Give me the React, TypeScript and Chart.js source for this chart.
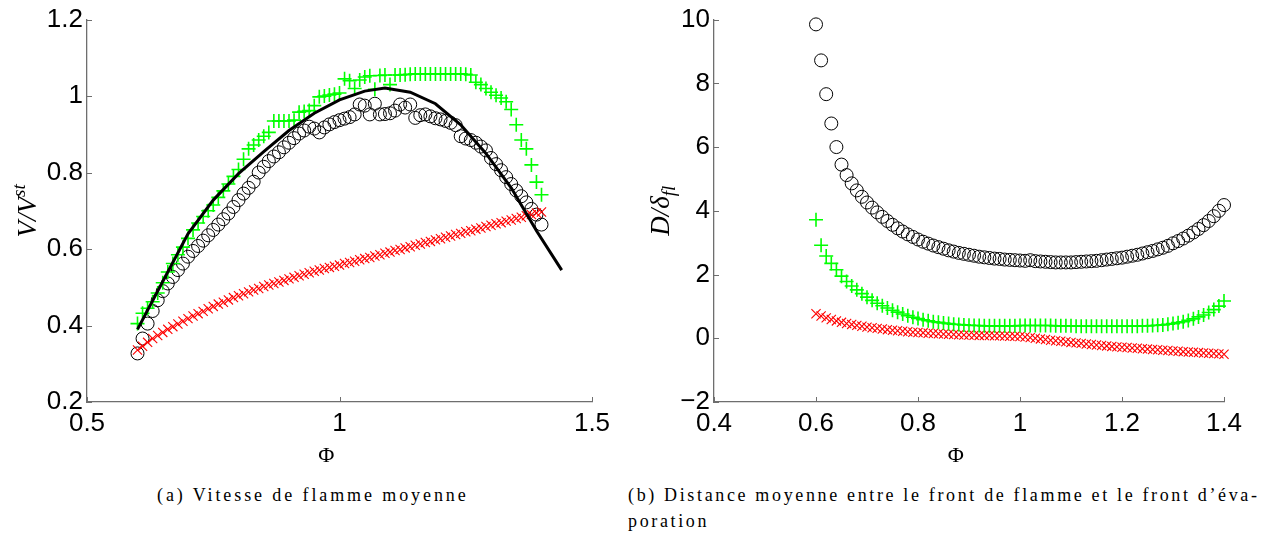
import React, { useEffect, useRef, useMemo } from "react";
import { Chart, registerables } from "chart.js";
Chart.register(...registerables);

// ---------- data ----------
const PHI = [0.6, 0.61, 0.62, 0.63, 0.64, 0.65, 0.66, 0.67, 0.68, 0.69, 0.7, 0.71, 0.72, 0.73, 0.74, 0.75, 0.76, 0.77, 0.78, 0.79, 0.8, 0.81, 0.82, 0.83, 0.84, 0.85, 0.86, 0.87, 0.88, 0.89, 0.9, 0.91, 0.92, 0.93, 0.94, 0.95, 0.96, 0.97, 0.98, 0.99, 1, 1.01, 1.02, 1.03, 1.04, 1.05, 1.06, 1.07, 1.08, 1.09, 1.1, 1.11, 1.12, 1.13, 1.14, 1.15, 1.16, 1.17, 1.18, 1.19, 1.2, 1.21, 1.22, 1.23, 1.24, 1.25, 1.26, 1.27, 1.28, 1.29, 1.3, 1.31, 1.32, 1.33, 1.34, 1.35, 1.36, 1.37, 1.38, 1.39, 1.4];

// (a) flame speed
const LINE_PHI = [0.6, 0.65, 0.7, 0.75, 0.8, 0.85, 0.9, 0.95, 1.0, 1.05, 1.09, 1.14, 1.19, 1.24, 1.29, 1.34, 1.39, 1.44];
const LINE_V = [0.39, 0.515, 0.64, 0.728, 0.797, 0.855, 0.91, 0.955, 0.99, 1.013, 1.021, 1.01, 0.98, 0.925, 0.85, 0.76, 0.648, 0.545];
const V_CIRCLE = [
  0.327, 0.366, 0.405, 0.438, 0.466, 0.49, 0.51, 0.527, 0.545, 0.562,
  0.58, 0.595, 0.608, 0.622, 0.636, 0.65, 0.664, 0.678, 0.693, 0.71,
  0.728, 0.745, 0.76, 0.776, 0.8, 0.815, 0.83, 0.842, 0.853, 0.866,
  0.878, 0.89, 0.902, 0.91, 0.92, 0.915, 0.905, 0.918, 0.926, 0.932,
  0.937, 0.941, 0.945, 0.952, 0.978, 0.975, 0.952, 0.98, 0.952, 0.953,
  0.955, 0.962, 0.978, 0.97, 0.978, 0.943, 0.95, 0.952, 0.947, 0.942,
  0.939, 0.935, 0.93, 0.924, 0.895, 0.889, 0.885, 0.878, 0.868, 0.858,
  0.838, 0.822, 0.806, 0.788, 0.77, 0.753, 0.738, 0.722, 0.705, 0.69,
  0.664,
];
const V_PLUS = [
  0.405, 0.432, 0.445, 0.462, 0.485, 0.512, 0.54, 0.562, 0.585, 0.605,
  0.628, 0.65, 0.668, 0.685, 0.7, 0.715, 0.735, 0.752, 0.77, 0.79,
  0.808, 0.835, 0.862, 0.872, 0.885, 0.895, 0.905, 0.935, 0.935, 0.935,
  0.935, 0.937, 0.958, 0.96, 0.962, 0.975, 0.998, 1.0, 1.003, 1.005,
  1.008, 1.045, 1.04, 1.02, 1.042, 1.05, 1.053, 1.018, 1.054, 1.055,
  1.03, 1.055, 1.055, 1.056, 1.057, 1.058, 1.058, 1.058, 1.058, 1.058,
  1.058, 1.058, 1.058, 1.058, 1.058, 1.057, 1.055, 1.036, 1.03, 1.02,
  1.01, 1.002, 0.995, 0.985, 0.965, 0.925, 0.885, 0.862, 0.82, 0.775,
  0.742,
];
const V_CROSS = [
  0.336, 0.346, 0.356, 0.366, 0.374, 0.382, 0.39, 0.397, 0.404, 0.411,
  0.418, 0.425, 0.431, 0.437, 0.444, 0.45, 0.456, 0.461, 0.467, 0.473,
  0.478, 0.483, 0.488, 0.493, 0.497, 0.502, 0.506, 0.51, 0.514, 0.518,
  0.522, 0.526, 0.53, 0.534, 0.538, 0.542, 0.545, 0.549, 0.552, 0.555,
  0.558, 0.562, 0.565, 0.568, 0.572, 0.575, 0.578, 0.582, 0.585, 0.589,
  0.592, 0.596, 0.599, 0.603, 0.606, 0.61, 0.613, 0.617, 0.62, 0.624,
  0.627, 0.631, 0.634, 0.638, 0.641, 0.645, 0.648, 0.652, 0.655, 0.659,
  0.662, 0.666, 0.669, 0.673, 0.676, 0.68, 0.683, 0.687, 0.69, 0.694,
  0.697,
];

// (b) distance
const D_CIRCLE = [
  9.85, 8.72, 7.66, 6.74, 6.0, 5.45, 5.12, 4.86, 4.64, 4.44,
  4.26, 4.1, 3.95, 3.81, 3.68, 3.56, 3.45, 3.35, 3.26, 3.18,
  3.1, 3.03, 2.97, 2.91, 2.86, 2.81, 2.76, 2.72, 2.68, 2.65,
  2.62, 2.59, 2.56, 2.54, 2.52, 2.5, 2.49, 2.47, 2.46, 2.45,
  2.44, 2.43, 2.45, 2.42, 2.41, 2.4, 2.39, 2.38, 2.38, 2.38,
  2.38, 2.39, 2.4, 2.41, 2.42, 2.43, 2.45, 2.47, 2.49, 2.51,
  2.53, 2.56, 2.59, 2.62, 2.66, 2.7, 2.74, 2.79, 2.84, 2.9,
  2.98, 3.05, 3.13, 3.22, 3.32, 3.43, 3.55, 3.68, 3.83, 4.0,
  4.18,
];
const D_PLUS = [
  3.72, 2.92, 2.58, 2.35, 2.15, 1.95, 1.78, 1.64, 1.52, 1.4,
  1.29, 1.19, 1.1, 1.02, 0.95, 0.88, 0.82, 0.76, 0.71, 0.66,
  0.62, 0.58, 0.55, 0.52, 0.5, 0.48, 0.46, 0.44, 0.43, 0.42,
  0.41, 0.4, 0.4, 0.39, 0.39, 0.39, 0.39, 0.39, 0.39, 0.39,
  0.4, 0.4, 0.4, 0.4, 0.4, 0.4, 0.4, 0.39, 0.39, 0.39,
  0.39, 0.38, 0.38, 0.38, 0.38, 0.38, 0.38, 0.38, 0.38, 0.38,
  0.38, 0.38, 0.38, 0.38, 0.39, 0.39, 0.4, 0.41, 0.42, 0.44,
  0.46, 0.49, 0.52, 0.56, 0.61, 0.67, 0.73, 0.81, 0.9, 1.01,
  1.17,
];
const D_CROSS = [
  0.77, 0.7, 0.64, 0.59, 0.545, 0.5, 0.465, 0.435, 0.405, 0.375,
  0.35, 0.33, 0.31, 0.29, 0.27, 0.25, 0.235, 0.22, 0.205, 0.19,
  0.18, 0.17, 0.16, 0.15, 0.14, 0.13, 0.125, 0.12, 0.11, 0.105,
  0.1, 0.095, 0.09, 0.085, 0.085, 0.08, 0.075, 0.07, 0.065, 0.06,
  0.055, 0.04, 0.02, 0.0, -0.02, -0.04, -0.06, -0.08, -0.095, -0.11,
  -0.13, -0.145, -0.16, -0.18, -0.195, -0.21, -0.225, -0.24, -0.255, -0.27,
  -0.28, -0.29, -0.305, -0.315, -0.33, -0.34, -0.35, -0.36, -0.375, -0.385,
  -0.4, -0.41, -0.42, -0.43, -0.44, -0.45, -0.46, -0.47, -0.48, -0.49,
  -0.5,
];

// ticks
const A_X_TICKS = [0.5, 1, 1.5];
const A_X_LABELS = ["0.5", "1", "1.5"];
const A_Y_TICKS = [0.2, 0.4, 0.6, 0.8, 1, 1.2];
const A_Y_LABELS = ["0.2", "0.4", "0.6", "0.8", "1", "1.2"];
const B_X_TICKS = [0.4, 0.6, 0.8, 1, 1.2, 1.4];
const B_X_LABELS = ["0.4", "0.6", "0.8", "1", "1.2", "1.4"];
const B_Y_TICKS = [-2, 0, 2, 4, 6, 8, 10];
const B_Y_LABELS = ["\u22122", "0", "2", "4", "6", "8", "10"];

const CAPTION_A = "(a) Vitesse de flamme moyenne";
const CAPTION_B1 = "(b) Distance moyenne entre le front de flamme et le front d\u2019\u00e9va-";
const CAPTION_B2 = "poration";

// ---------- styles ----------
const AXIS_COLOR = "#6e6e6e";
const TICK_FONT = { family: "'Liberation Sans', Arial, sans-serif", size: 26 };
const SERIF = "'Liberation Serif', 'Times New Roman', serif";
const GREEN = "#00ff00";
const RED = "#ff0000";

const pts = (xs: number[], ys: number[]) => xs.map((x, i) => ({ x, y: ys[i] }));

const decoPlugin = {
  id: "deco",
  afterDraw(chart: any, _args: any, opts: any) {
    const ctx = chart.ctx as CanvasRenderingContext2D;
    const area = chart.chartArea;
    const xs = chart.scales.x;
    const ys = chart.scales.y;
    ctx.save();
    // inward tick marks
    ctx.strokeStyle = AXIS_COLOR;
    ctx.lineWidth = 1;
    ctx.beginPath();
    for (const t of xs.ticks) {
      const px = Math.round(xs.getPixelForValue(t.value)) + 0.5;
      ctx.moveTo(px, area.bottom);
      ctx.lineTo(px, area.bottom - 5);
    }
    for (const t of ys.ticks) {
      const py = Math.round(ys.getPixelForValue(t.value)) + 0.5;
      ctx.moveTo(area.left, py);
      ctx.lineTo(area.left + 5, py);
    }
    ctx.stroke();
    // x title
    ctx.fillStyle = "#000";
    ctx.font = `22px ${SERIF}`;
    ctx.textAlign = "center";
    ctx.textBaseline = "middle";
    ctx.fillText(opts.xTitle, area.left + opts.xFrac * (area.right - area.left), opts.xTitleY);
    // y title (rotated, with sub/superscript)
    ctx.translate(opts.yTitleX, (area.top + area.bottom) / 2);
    ctx.rotate(-Math.PI / 2);
    ctx.textAlign = "left";
    ctx.textBaseline = "alphabetic";
    let total = 0;
    for (const p of opts.yParts) {
      ctx.font = p.font;
      total += ctx.measureText(p.text).width;
    }
    let x = -total / 2;
    for (const p of opts.yParts) {
      ctx.font = p.font;
      ctx.fillText(p.text, x, p.dy);
      x += ctx.measureText(p.text).width;
    }
    ctx.restore();
  },
};

function makeScale(min: number, max: number, ticks: number[], labels: string[], isX: boolean, fitSize: number, pad: number) {
  return {
    type: "linear",
    min,
    max,
    afterBuildTicks: (s: any) => {
      s.ticks = ticks.map((value) => ({ value }));
    },
    afterFit: (s: any) => {
      if (isX) s.height = fitSize;
      else s.width = fitSize;
    },
    grid: { display: false, drawTicks: false },
    border: { display: true, color: AXIS_COLOR, width: 1.3 },
    ticks: {
      font: TICK_FONT,
      color: "#000",
      padding: pad,
      autoSkip: false,
      maxRotation: 0,
      callback: (_v: any, i: number) => labels[i],
    },
  };
}

const plusStyle = {
  pointStyle: "cross",
  pointRadius: 7,
  borderColor: GREEN,
  borderWidth: 1.6,
  backgroundColor: GREEN,
  clip: false,
};
const xStyle = {
  pointStyle: "crossRot",
  pointRadius: 6.5,
  borderColor: RED,
  borderWidth: 1.1,
  backgroundColor: RED,
  clip: false,
};
const circleStyle = {
  pointStyle: "circle",
  pointRadius: 6.5,
  borderColor: "#000",
  borderWidth: 1,
  backgroundColor: "rgba(0,0,0,0)",
  clip: false,
};

function configA() {
  return {
    type: "scatter",
    data: {
      datasets: [
        {
          data: pts(LINE_PHI, LINE_V),
          showLine: true,
          borderColor: "#000",
          borderWidth: 3,
          pointRadius: 0,
          tension: 0,
          clip: false,
        },
        { data: pts(PHI, V_PLUS), ...plusStyle },
        { data: pts(PHI, V_CROSS), ...xStyle },
        { data: pts(PHI, V_CIRCLE), ...circleStyle },
      ],
    },
    options: {
      responsive: false,
      animation: false,
      devicePixelRatio: 1,
      events: [],
      layout: { padding: { top: 16, right: 48, left: 0, bottom: 0 } },
      scales: {
        x: makeScale(0.5, 1.5, A_X_TICKS, A_X_LABELS, true, 470 - 402, 6),
        y: makeScale(0.2, 1.2, A_Y_TICKS, A_Y_LABELS, false, 87, 4),
      },
      plugins: {
        legend: { display: false },
        tooltip: { enabled: false },
        deco: {
          xTitle: "\u03a6",
          xFrac: 0.474,
          xTitleY: 456,
          yTitleX: 36,
          yParts: [
            { text: "V/V", font: `italic 27px ${SERIF}`, dy: 0 },
            { text: "st", font: `italic 19px ${SERIF}`, dy: -11 },
          ],
        },
      },
    },
    plugins: [decoPlugin],
  };
}

function configB() {
  return {
    type: "scatter",
    data: {
      datasets: [
        { data: pts(PHI, D_PLUS), ...plusStyle },
        { data: pts(PHI, D_CROSS), ...xStyle },
        { data: pts(PHI, D_CIRCLE), ...circleStyle },
      ],
    },
    options: {
      responsive: false,
      animation: false,
      devicePixelRatio: 1,
      events: [],
      layout: { padding: { top: 16, right: 43, left: 0, bottom: 0 } },
      scales: {
        x: makeScale(0.4, 1.4, B_X_TICKS, B_X_LABELS, true, 470 - 402, 6),
        y: makeScale(-2, 10, B_Y_TICKS, B_Y_LABELS, false, 74, 4),
      },
      plugins: {
        legend: { display: false },
        tooltip: { enabled: false },
        deco: {
          xTitle: "\u03a6",
          xFrac: 0.474,
          xTitleY: 456,
          yTitleX: 29,
          yParts: [
            { text: "D/\u03b4", font: `italic 27px ${SERIF}`, dy: 0 },
            { text: "fl", font: `italic 19px ${SERIF}`, dy: 6 },
          ],
        },
      },
    },
    plugins: [decoPlugin],
  };
}

function ChartCanvas({ make, left, width, height }: { make: () => any; left: number; width: number; height: number }) {
  const ref = useRef<HTMLCanvasElement>(null);
  useEffect(() => {
    const chart = new Chart(ref.current as HTMLCanvasElement, make());
    return () => chart.destroy();
  }, []);
  return (
    <canvas
      ref={ref}
      width={width}
      height={height}
      style={{ position: "absolute", left, top: 0, width, height }}
    />
  );
}

function measure(text: string, font: string) {
  const c = document.createElement("canvas").getContext("2d") as CanvasRenderingContext2D;
  c.font = font;
  return c.measureText(text).width;
}

const CAP_SIZE = 18;
const CAP_FONT = `${CAP_SIZE}px ${SERIF}`;

export default function App() {
  const lsA = useMemo(() => (309 - measure(CAPTION_A, CAP_FONT)) / (CAPTION_A.length - 1), []);
  const lsB = useMemo(() => (629 - measure(CAPTION_B1, CAP_FONT)) / (CAPTION_B1.length - 1), []);
  const capStyle = (left: number, top: number, ls: number): React.CSSProperties => ({
    position: "absolute",
    left,
    top,
    fontFamily: SERIF,
    fontSize: CAP_SIZE,
    lineHeight: "20px",
    letterSpacing: `${ls}px`,
    whiteSpace: "nowrap",
    color: "#000",
  });
  return (
    <div style={{ position: "fixed", left: 0, top: 0, width: 1267, height: 533, background: "#fff", overflow: "hidden" }}>
      <ChartCanvas make={configA} left={0} width={640} height={470} />
      <ChartCanvas make={configB} left={640} width={627} height={470} />
      <div style={capStyle(157, 485, lsA)}>{CAPTION_A}</div>
      <div style={capStyle(628, 485, lsB)}>{CAPTION_B1}</div>
      <div style={capStyle(628, 511, lsB)}>{CAPTION_B2}</div>
    </div>
  );
}
